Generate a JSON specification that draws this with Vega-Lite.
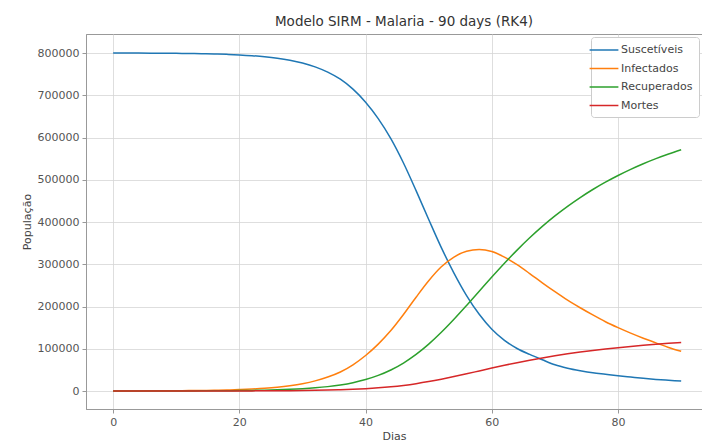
{
  "$schema": "https://vega.github.io/schema/vega-lite/v6.json",
  "width": 616,
  "height": 375,
  "autosize": {"type": "none"},
  "padding": {"left": 86, "top": 34, "right": 0, "bottom": 37},
  "background": "white",
  "title": {"text": "Modelo SIRM - Malaria - 90 days (RK4)", "fontSize": 13.5, "fontWeight": "normal", "font": "DejaVu Sans", "color": "#333", "offset": 6, "dx": 10, "anchor": "middle"},
  "config": {
    "font": "DejaVu Sans",
    "view": {"stroke": "#999", "strokeWidth": 1},
    "axis": {"labelFont": "DejaVu Sans", "titleFont": "DejaVu Sans", "labelFontSize": 11, "titleFontSize": 11, "titleFontWeight": "normal", "labelColor": "#555", "titleColor": "#444", "gridColor": "#d6d6d6", "gridWidth": 0.8, "domainColor": "#999", "tickColor": "#999", "tickSize": 4, "labelPadding": 3}
  },
  "data": {"values": [
    {"Dias": 0, "Suscetíveis": 800000, "Infectados": 126, "Recuperados": 0, "Mortes": 0},
    {"Dias": 2, "Suscetíveis": 799933, "Infectados": 175, "Recuperados": 15, "Mortes": 3},
    {"Dias": 4, "Suscetíveis": 799840, "Infectados": 243, "Recuperados": 36, "Mortes": 7},
    {"Dias": 6, "Suscetíveis": 799709, "Infectados": 338, "Recuperados": 66, "Mortes": 13},
    {"Dias": 8, "Suscetíveis": 799529, "Infectados": 470, "Recuperados": 106, "Mortes": 21},
    {"Dias": 10, "Suscetíveis": 799276, "Infectados": 654, "Recuperados": 163, "Mortes": 33},
    {"Dias": 12, "Suscetíveis": 798926, "Infectados": 909, "Recuperados": 242, "Mortes": 49},
    {"Dias": 14, "Suscetíveis": 798440, "Infectados": 1263, "Recuperados": 352, "Mortes": 71},
    {"Dias": 16, "Suscetíveis": 797766, "Infectados": 1755, "Recuperados": 504, "Mortes": 101},
    {"Dias": 18, "Suscetíveis": 796826, "Infectados": 2440, "Recuperados": 716, "Mortes": 144},
    {"Dias": 20, "Suscetíveis": 795522, "Infectados": 3390, "Recuperados": 1011, "Mortes": 203},
    {"Dias": 22, "Suscetíveis": 793700, "Infectados": 4720, "Recuperados": 1420, "Mortes": 286},
    {"Dias": 24, "Suscetíveis": 791187, "Infectados": 6550, "Recuperados": 1989, "Mortes": 400},
    {"Dias": 26, "Suscetíveis": 787687, "Infectados": 9100, "Recuperados": 2780, "Mortes": 559},
    {"Dias": 28, "Suscetíveis": 782818, "Infectados": 12650, "Recuperados": 3878, "Mortes": 780},
    {"Dias": 30, "Suscetíveis": 776246, "Infectados": 17400, "Recuperados": 5395, "Mortes": 1085},
    {"Dias": 32, "Suscetíveis": 767176, "Infectados": 23960, "Recuperados": 7484, "Mortes": 1506},
    {"Dias": 34, "Suscetíveis": 754681, "Infectados": 33000, "Recuperados": 10361, "Mortes": 2084},
    {"Dias": 36, "Suscetíveis": 737949, "Infectados": 45000, "Recuperados": 14300, "Mortes": 2877},
    {"Dias": 38, "Suscetíveis": 714459, "Infectados": 62000, "Recuperados": 19703, "Mortes": 3964},
    {"Dias": 40, "Suscetíveis": 683603, "Infectados": 84000, "Recuperados": 27076, "Mortes": 5447},
    {"Dias": 42, "Suscetíveis": 644773, "Infectados": 111000, "Recuperados": 36924, "Mortes": 7429},
    {"Dias": 44, "Suscetíveis": 597366, "Infectados": 143000, "Recuperados": 49751, "Mortes": 10009},
    {"Dias": 46, "Suscetíveis": 539712, "Infectados": 181000, "Recuperados": 66113, "Mortes": 13301},
    {"Dias": 48, "Suscetíveis": 474267, "Infectados": 222000, "Recuperados": 86464, "Mortes": 17395},
    {"Dias": 50, "Suscetíveis": 405967, "Infectados": 261000, "Recuperados": 110856, "Mortes": 22303},
    {"Dias": 52, "Suscetíveis": 339301, "Infectados": 294000, "Recuperados": 138883, "Mortes": 27942},
    {"Dias": 54, "Suscetíveis": 279238, "Infectados": 317000, "Recuperados": 169739, "Mortes": 34149},
    {"Dias": 56, "Suscetíveis": 225930, "Infectados": 331000, "Recuperados": 202463, "Mortes": 40733},
    {"Dias": 58, "Suscetíveis": 181530, "Infectados": 335000, "Recuperados": 236096, "Mortes": 47500},
    {"Dias": 60, "Suscetíveis": 146192, "Infectados": 330000, "Recuperados": 269678, "Mortes": 54256},
    {"Dias": 62, "Suscetíveis": 119945, "Infectados": 317000, "Recuperados": 302352, "Mortes": 60829},
    {"Dias": 64, "Suscetíveis": 100578, "Infectados": 299000, "Recuperados": 333460, "Mortes": 67088},
    {"Dias": 66, "Suscetíveis": 86578, "Infectados": 278000, "Recuperados": 362598, "Mortes": 72950},
    {"Dias": 68, "Suscetíveis": 74000, "Infectados": 256000, "Recuperados": 389565, "Mortes": 78375},
    {"Dias": 70, "Suscetíveis": 62000, "Infectados": 235000, "Recuperados": 414361, "Mortes": 83364},
    {"Dias": 72, "Suscetíveis": 54000, "Infectados": 215000, "Recuperados": 437086, "Mortes": 87936},
    {"Dias": 74, "Suscetíveis": 48000, "Infectados": 197000, "Recuperados": 457892, "Mortes": 92122},
    {"Dias": 76, "Suscetíveis": 43000, "Infectados": 180000, "Recuperados": 476930, "Mortes": 95952},
    {"Dias": 78, "Suscetíveis": 39500, "Infectados": 164000, "Recuperados": 494302, "Mortes": 99447},
    {"Dias": 80, "Suscetíveis": 36000, "Infectados": 150000, "Recuperados": 510159, "Mortes": 102638},
    {"Dias": 82, "Suscetíveis": 33000, "Infectados": 137000, "Recuperados": 524653, "Mortes": 105553},
    {"Dias": 84, "Suscetíveis": 30000, "Infectados": 125000, "Recuperados": 537884, "Mortes": 108215},
    {"Dias": 86, "Suscetíveis": 27500, "Infectados": 114000, "Recuperados": 549953, "Mortes": 110644},
    {"Dias": 88, "Suscetíveis": 25500, "Infectados": 103000, "Recuperados": 560912, "Mortes": 112848},
    {"Dias": 90, "Suscetíveis": 23500, "Infectados": 94000, "Recuperados": 570860, "Mortes": 114850}
  ]},
  "transform": [{"fold": ["Suscetíveis", "Infectados", "Recuperados", "Mortes"], "as": ["Grupo", "Valor"]}],
  "mark": {"type": "line", "strokeWidth": 1.5, "interpolate": "monotone", "clip": true},
  "encoding": {
    "x": {"field": "Dias", "type": "quantitative", "scale": {"domain": [-4.3, 93.3], "nice": false, "zero": false},
      "axis": {"values": [0, 20, 40, 60, 80], "title": "Dias", "titlePadding": 3, "format": "d"}},
    "y": {"field": "Valor", "type": "quantitative", "scale": {"domain": [-42600, 845000], "nice": false, "zero": false},
      "axis": {"values": [0, 100000, 200000, 300000, 400000, 500000, 600000, 700000, 800000], "format": "d", "title": "População", "titlePadding": 5}},
    "color": {"field": "Grupo", "type": "nominal", "sort": ["Suscetíveis", "Infectados", "Recuperados", "Mortes"],
      "scale": {"domain": ["Suscetíveis", "Infectados", "Recuperados", "Mortes"], "range": ["#1f77b4", "#ff7f0e", "#2ca02c", "#d62728"]},
      "legend": {"title": null, "orient": "top-right", "offset": 3, "padding": 6, "strokeColor": "#ccc", "fillColor": "white", "cornerRadius": 3,
        "symbolType": "M-2.4,0H2.4", "symbolSize": 144, "symbolStrokeWidth": 1.5, "labelFontSize": 11, "labelOffset": 10, "labelColor": "#444", "labelFont": "DejaVu Sans", "rowPadding": 6.5}}
  }
}
